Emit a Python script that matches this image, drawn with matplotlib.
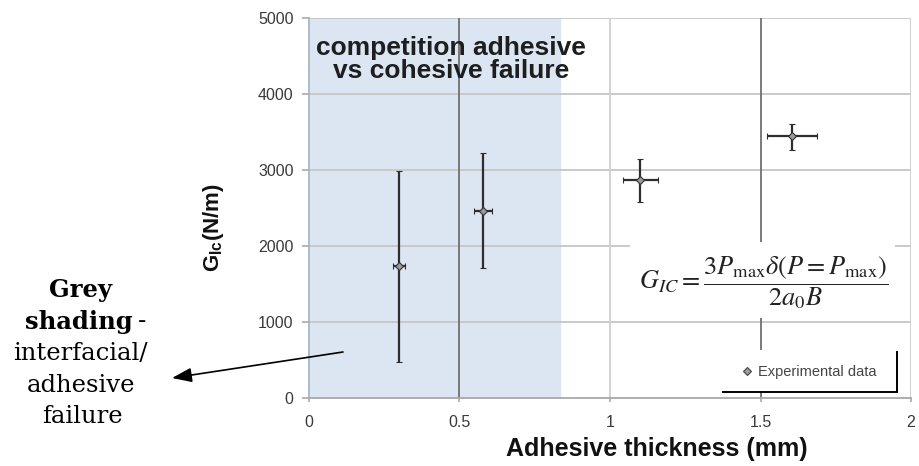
import numpy as np
import matplotlib.pyplot as plt
from matplotlib.patches import Rectangle
from matplotlib.lines import Line2D

plt.rcParams['font.family'] = ['Liberation Sans', 'DejaVu Sans']
plt.rcParams['mathtext.fontset'] = 'custom'
plt.rcParams['mathtext.rm'] = 'Liberation Sans'
plt.rcParams['mathtext.bf'] = 'Liberation Sans:bold'
plt.rcParams['mathtext.it'] = 'Liberation Sans:italic'

# G_Ic vs adhesive thickness
thick = np.array([0.30, 0.578, 1.10, 1.605])
thick_err = np.array([0.02, 0.031, 0.058, 0.083])
gic = np.array([1737, 2460, 2868, 3447])
gic_lo = np.array([480, 1711, 2579, 3263])
gic_hi = np.array([2990, 3224, 3145, 3605])

xticks = [0, 0.5, 1, 1.5, 2]
xticklabels = ['0', '0.5', '1', '1.5', '2']
yticks = [0, 1000, 2000, 3000, 4000, 5000]
shade_end = 0.834

W, H = 920, 466
fig = plt.figure(figsize=(W / 100, H / 100), dpi=100)
ax = fig.add_axes([309 / W, 68 / H, 602 / W, 380 / H])

ax.set_xlim(0, 2)
ax.set_ylim(0, 5000)

# adhesive failure region
ax.axvspan(0, shade_end, color='#dce6f2', zorder=0)

# grid: light horizontals, alternating vertical weights
for yv in yticks[1:]:
    ax.axhline(yv, color='#c6c6c6', lw=1.3, zorder=1)
for xv in xticks[1:]:
    c = '#707070' if xv in (0.5, 1.5) else '#d0d0d0'
    ax.axvline(xv, color=c, lw=1.3, zorder=1)

# formula box
ax.add_patch(Rectangle((0.533, 0.21), 0.44, 0.2, transform=ax.transAxes,
                       facecolor='white', edgecolor='none', zorder=2))
ax.text(0.756, 0.303,
        r'$G_{IC}=\dfrac{3P_{\mathrm{max}}\delta(P=P_{\mathrm{max}})}{2a_0B}$',
        transform=ax.transAxes, ha='center', va='center', fontsize=19,
        color='#222222', math_fontfamily='stix', zorder=3)

# legend box with dark right/bottom edges
ax.add_patch(Rectangle((0.66, 0.016), 0.317, 0.11, transform=ax.transAxes,
                       facecolor='white', edgecolor='none', zorder=2))
ax.add_line(Line2D([0.688, 0.977], [0.016, 0.016], transform=ax.transAxes,
                   color='black', lw=1.4, zorder=3))
ax.add_line(Line2D([0.977, 0.977], [0.016, 0.121], transform=ax.transAxes,
                   color='black', lw=1.4, zorder=3))

yerr = np.vstack([gic - gic_lo, gic_hi - gic])
ax.errorbar(thick, gic, xerr=thick_err, yerr=yerr, fmt='D', ms=4,
            mfc='#9a9a9a', mec='#333333', mew=0.8, ecolor='#2e2e2e',
            elinewidth=1.6, capsize=2.5, capthick=1.6, zorder=4)

handle = Line2D([], [], ls='none', marker='D', ms=4.5, mfc='#9a9a9a',
                mec='#444444', mew=0.8)
leg = ax.legend([handle], ['Experimental data'], loc='center',
                bbox_to_anchor=(0.688, 0.016, 0.289, 0.105),
                bbox_transform=ax.transAxes, frameon=False, fontsize=10.5,
                handlelength=0.5, handletextpad=0.5)
leg.set_zorder(5)
for t in leg.get_texts():
    t.set_color('#444444')

ax.set_xticks(xticks)
ax.set_xticklabels(xticklabels)
ax.set_yticks(yticks)
ax.tick_params(axis='both', labelsize=11.5, labelcolor='#3a3a3a',
               color='#aaaaaa', width=1.2)
ax.tick_params(axis='y', length=5, pad=6)
ax.tick_params(axis='x', length=3, pad=9)
for s in ['top', 'right']:
    ax.spines[s].set_visible(False)
ax.spines['left'].set_color('#a8b6c8')
ax.spines['bottom'].set_color('#a8a8a8')
for s in ['left', 'bottom']:
    ax.spines[s].set_linewidth(1.3)

fig.text(657, H - 449, 'Adhesive thickness (mm)', transform=None,
         fontsize=18, fontweight='bold', color='#111111',
         ha='center', va='center')
fig.text(214, H - 228, r'G$_{\mathbf{Ic}}$(N/m)', transform=None,
         fontsize=16, fontweight='bold', color='#111111', rotation=90,
         ha='center', va='center')

ax.text(0.236, 0.892, 'competition adhesive\nvs cohesive failure',
        transform=ax.transAxes, ha='center', va='center', fontsize=19,
        fontweight='bold', color='#1e1e1e', linespacing=0.95, zorder=3)

# side note with arrow into the shaded region
serif = ['DejaVu Serif']
fs = 17.5
base = [297, 328.5, 360, 391.5, 423]
fig.text(80, H - base[0], 'Grey', transform=None, family=serif, fontsize=fs,
         fontweight='bold', ha='center', va='baseline')
fig.text(133, H - base[1], 'shading', transform=None, family=serif,
         fontsize=fs, fontweight='bold', ha='right', va='baseline')
fig.text(138, H - base[1], '-', transform=None, family=serif, fontsize=fs,
         ha='left', va='baseline')
fig.text(80, H - base[2], 'interfacial/', transform=None, family=serif,
         fontsize=fs, ha='center', va='baseline')
fig.text(81, H - base[3], 'adhesive', transform=None, family=serif,
         fontsize=fs, ha='center', va='baseline')
fig.text(82, H - base[4], 'failure', transform=None, family=serif,
         fontsize=fs, ha='center', va='baseline')
ax.annotate('', xy=(172, H - 378), xycoords='figure pixels',
            xytext=(343, H - 352), textcoords='figure pixels',
            arrowprops=dict(arrowstyle='-|>,head_length=0.6,head_width=0.22',
                            color='black', lw=1.2, mutation_scale=20,
                            shrinkA=0, shrinkB=0),
            annotation_clip=False, zorder=6)

fig.savefig('out.png', dpi=100)
